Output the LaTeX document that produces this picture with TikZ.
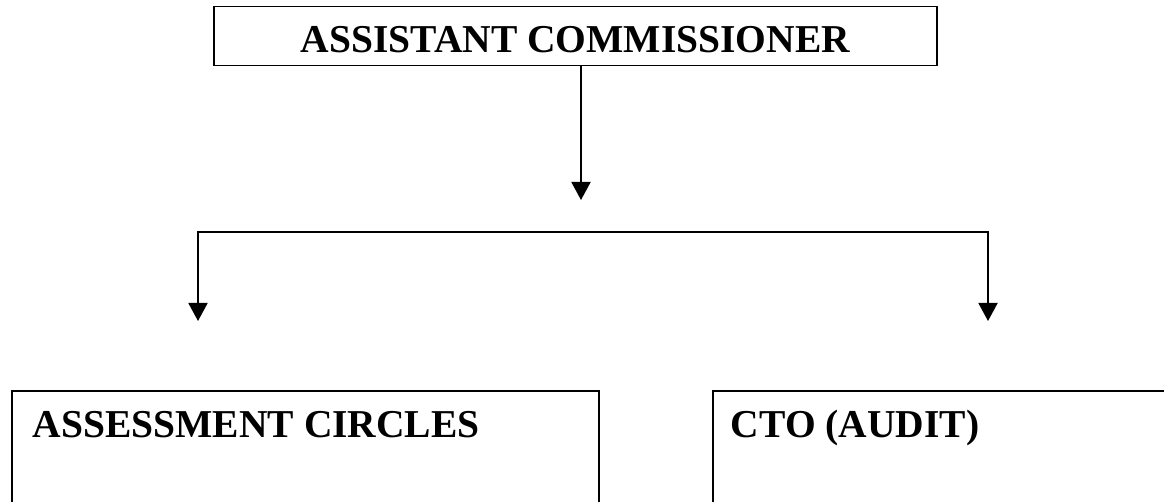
\documentclass[tikz,border=0pt]{standalone}
\usepackage{fontspec}
\setmainfont{Liberation Serif}
\usetikzlibrary{arrows.meta}

\begin{document}
\begin{tikzpicture}[x = 1pt, y = -1pt, > = {Triangle[length = 18pt, width = 19pt]}, line width = 1.9pt,
	box/.style = {draw, inner sep = 0pt},
	heading/.style = {font = \fontsize{39.5}{47}\selectfont\bfseries, inner sep = 0pt}]

\clip (0, 0) rectangle (1164, 502);

% Assistant commissioner

\node [box, heading, minimum width = 723pt, minimum height = 59pt, text height = 33pt, text depth = 0pt] (commissioner) at (575.5, 36) {ASSISTANT COMMISSIONER};

% Branch points

\coordinate (split) at (581, 200);
\coordinate (barL) at (198, 232);
\coordinate (barR) at (988, 232);
\coordinate (tipL) at (198, 321);
\coordinate (tipR) at (988, 321);

% Arrows

\draw [->] (commissioner.south -| split) -- (split);
\draw [<->] (tipL) -- (barL) -- (barR) -- (tipR);

% Assessment circles

\node [box, minimum width = 587pt, minimum height = 140pt, anchor = north west] (circles) at (11, 390) {};
\node [heading, anchor = base west] (circlesText) at ([shift = {(21, 47)}]circles.north west) {ASSESSMENT CIRCLES};

% CTO (audit)

\node [box, minimum width = 470pt, minimum height = 140pt, anchor = north west] (cto) at (712, 390) {};
\node [heading, anchor = base west] (ctoText) at ([shift = {(18, 47)}]cto.north west) {CTO (AUDIT)};

\end{tikzpicture}
\end{document}
